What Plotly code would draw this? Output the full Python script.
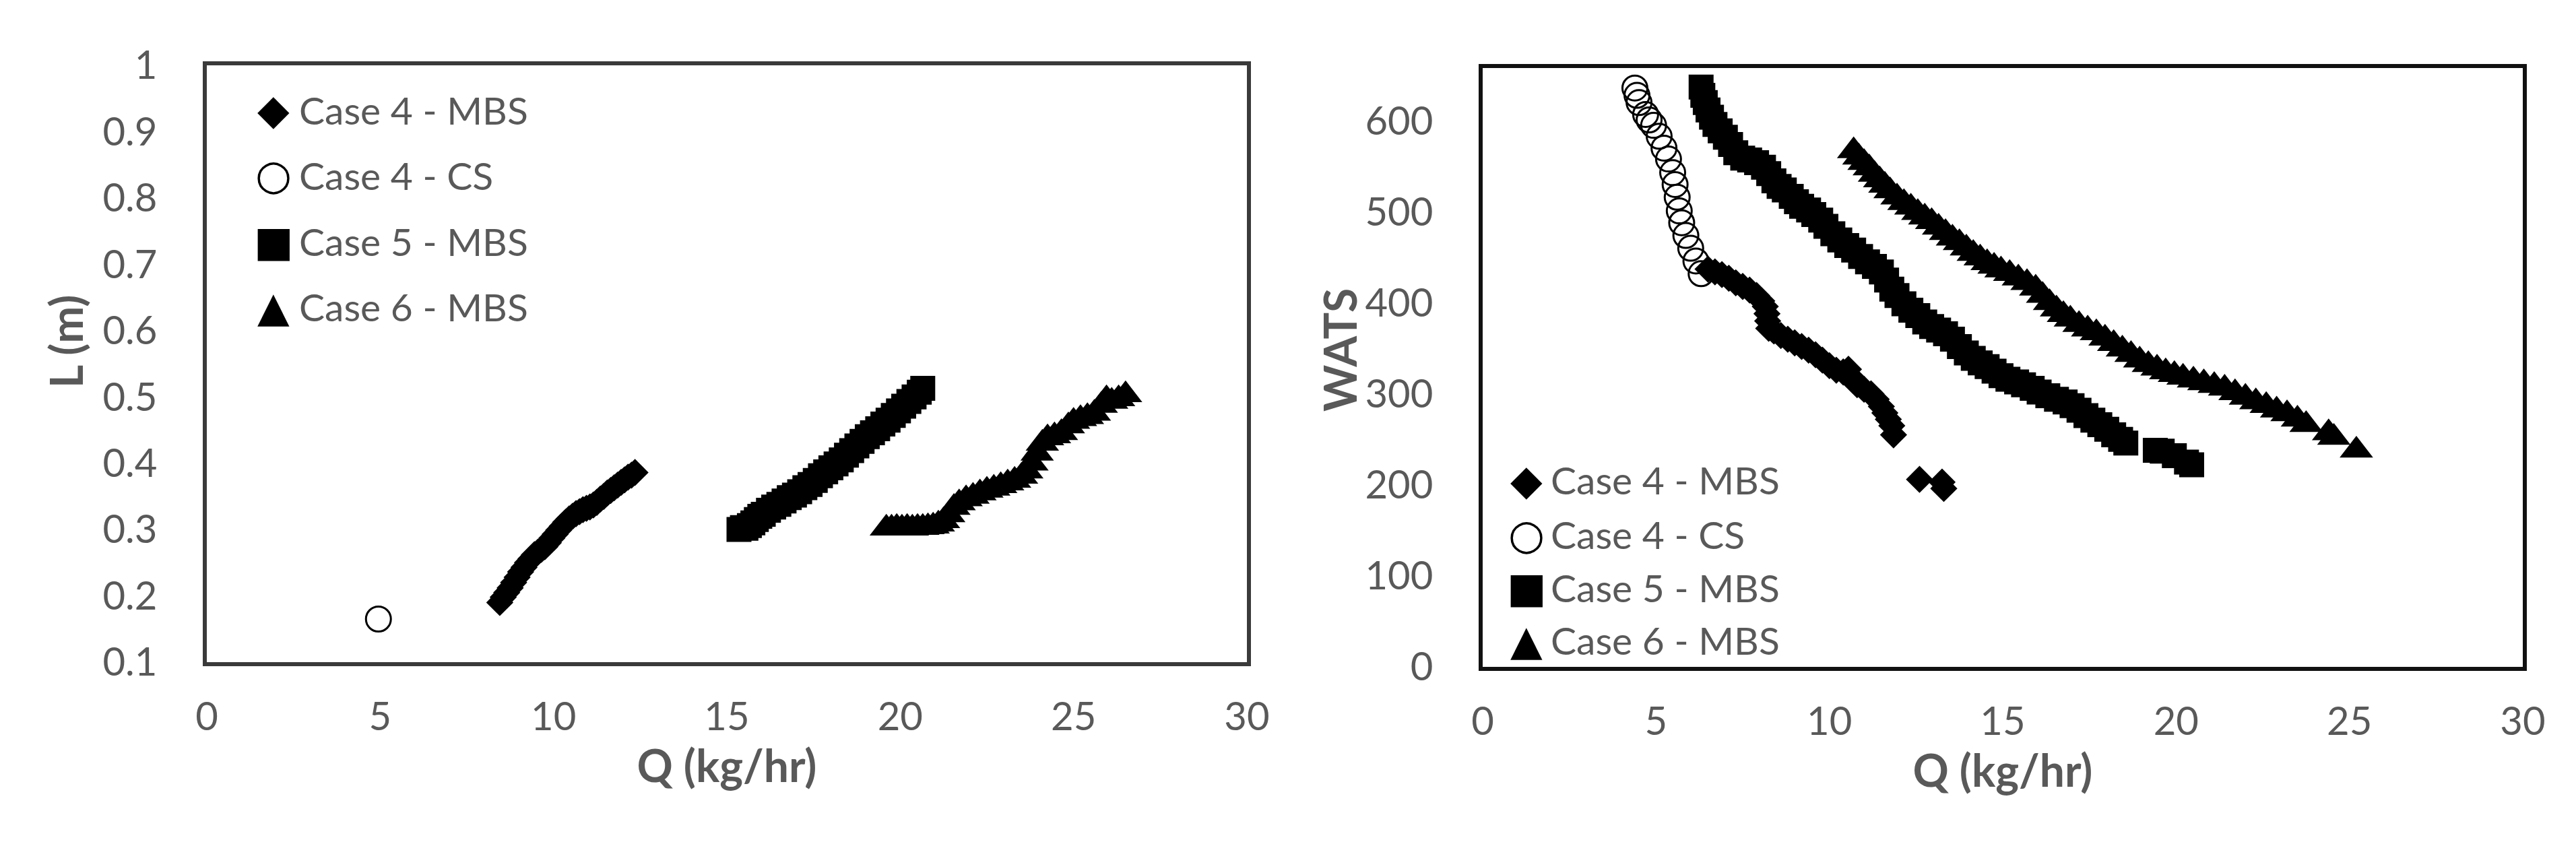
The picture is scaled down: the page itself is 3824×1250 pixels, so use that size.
import plotly.graph_objects as go

W, H = 3824, 1250

# ---- Left panel: L (m) vs Q (kg/hr) ----
case4_mbs_q_l = [8.45, 8.55, 8.65, 8.75, 8.85, 8.95, 9.05, 9.15, 9.25, 9.35, 9.45, 9.55, 9.65, 9.75,
                 9.85, 9.95, 10.05, 10.15, 10.25, 10.35, 10.45, 10.55, 10.65, 10.75, 10.85, 10.95,
                 11.05, 11.15, 11.25, 11.35, 11.45, 11.55, 11.65, 11.75, 11.85, 11.95, 12.05, 12.15,
                 12.25, 12.35]
case4_mbs_l = [0.190, 0.198, 0.205, 0.212, 0.220, 0.228, 0.236, 0.243, 0.250, 0.256, 0.262, 0.266,
               0.270, 0.274, 0.280, 0.287, 0.293, 0.299, 0.305, 0.311, 0.316, 0.320, 0.324, 0.327,
               0.330, 0.332, 0.334, 0.337, 0.341, 0.346, 0.350, 0.355, 0.359, 0.363, 0.367, 0.371,
               0.375, 0.379, 0.382, 0.386]

case4_cs_q_l = [4.95]
case4_cs_l = [0.165]

case5_mbs_q_l = [15.35, 15.45, 15.55, 15.65, 15.75, 15.85, 15.95, 16.05, 16.2, 16.35, 16.5, 16.65,
                 16.8, 16.95, 17.1, 17.25, 17.4, 17.55, 17.7, 17.85, 18.0, 18.15, 18.3, 18.45, 18.6,
                 18.75, 18.9, 19.05, 19.2, 19.35, 19.5, 19.65, 19.8, 19.95, 20.1, 20.25, 20.4, 20.55,
                 20.65]
case5_mbs_l = [0.300, 0.303, 0.302, 0.306, 0.310, 0.315, 0.320, 0.323, 0.329, 0.334, 0.338, 0.343,
               0.348, 0.352, 0.357, 0.363, 0.368, 0.374, 0.381, 0.387, 0.393, 0.399, 0.405, 0.412,
               0.419, 0.426, 0.433, 0.440, 0.446, 0.452, 0.459, 0.465, 0.472, 0.479, 0.486, 0.493,
               0.500, 0.507, 0.513]

case6_mbs_q_l = [19.6, 19.75, 19.9, 20.05, 20.2, 20.35, 20.5, 20.65, 20.8, 20.95, 21.1, 21.25, 21.4,
                 21.55, 21.7, 21.9, 22.1, 22.3, 22.5, 22.7, 22.9, 23.1, 23.3, 23.5, 23.65, 23.8,
                 23.95, 24.1, 24.25, 24.45, 24.65, 24.85, 25.0, 25.2, 25.4, 25.6, 25.8, 25.95, 26.1,
                 26.3, 26.5]
case6_mbs_l = [0.302, 0.302, 0.303, 0.302, 0.303, 0.302, 0.303, 0.303, 0.304, 0.305, 0.308, 0.313,
               0.322, 0.333, 0.340, 0.346, 0.350, 0.355, 0.359, 0.362, 0.366, 0.370, 0.374, 0.380,
               0.388, 0.400, 0.415, 0.430, 0.438, 0.441, 0.446, 0.456, 0.463, 0.467, 0.470, 0.475,
               0.487, 0.497, 0.493, 0.497, 0.503]

# ---- Right panel: WATS vs Q (kg/hr) ----
case4_mbs_q_w = [6.5, 6.7, 6.9, 7.1, 7.3, 7.5, 7.7, 7.9, 8.05, 8.15, 8.2, 8.22, 8.25, 8.4, 8.6, 8.8,
                 9.0, 9.2, 9.4, 9.6, 9.8, 10.0, 10.2, 10.4, 10.55, 10.65, 10.8, 11.0, 11.2, 11.35,
                 11.5, 11.6, 11.7, 11.8, 11.85, 12.6, 13.25, 13.3]
case4_mbs_w = [437, 434, 431, 427, 422, 418, 414, 408, 402, 396, 388, 380, 372, 369, 364, 360, 356,
               352, 348, 343, 337, 331, 326, 324, 327, 318, 310, 305, 300, 294, 286, 279, 272, 265,
               255, 206, 203, 196]

case4_cs_q_w = [4.39, 4.45, 4.51, 4.7, 4.8, 4.93, 5.09, 5.23, 5.36, 5.48, 5.55, 5.61, 5.67, 5.74,
                5.86, 6.0, 6.15, 6.3]
case4_cs_w = [636, 628, 620, 607, 601, 595, 583, 570, 558, 543, 530, 516, 501, 488, 474, 460, 446,
              432]

case5_mbs_q_w = [6.3, 6.35, 6.42, 6.5, 6.6, 6.7, 6.85, 7.0, 7.15, 7.3, 7.5, 7.7, 7.9, 8.1, 8.25, 8.4,
                 8.55, 8.7, 8.9, 9.05, 9.2, 9.4, 9.55, 9.75, 9.9, 10.1, 10.3, 10.5, 10.7, 10.9, 11.1,
                 11.3, 11.5, 11.65, 11.8, 11.95, 12.15, 12.35, 12.55, 12.75, 12.95, 13.15, 13.35,
                 13.55, 13.75, 13.95, 14.15, 14.35, 14.55, 14.75, 14.95, 15.15, 15.4, 15.6, 15.85,
                 16.05, 16.3, 16.55, 16.8, 17.0, 17.2, 17.4, 17.6, 17.8, 18.0, 18.2, 18.4, 18.55,
                 19.4, 19.6, 19.95, 20.3, 20.45]
case5_mbs_w = [637, 628, 620, 612, 604, 596, 589, 582, 574, 565, 559, 557, 554, 549, 542, 534, 528,
               524, 517, 511, 506, 502, 497, 491, 484, 476, 469, 463, 458, 451, 445, 440, 434, 425,
               415, 408, 399, 392, 386, 379, 374, 370, 366, 360, 352, 345, 339, 334, 330, 325, 320,
               316, 313, 310, 306, 302, 298, 294, 291, 287, 282, 276, 271, 266, 261, 255, 250, 246,
               238, 237, 232, 225, 222]

case6_mbs_q_w = [10.7, 10.85, 11.0, 11.15, 11.3, 11.45, 11.6, 11.75, 11.95, 12.15, 12.35, 12.55,
                 12.75, 12.95, 13.15, 13.35, 13.55, 13.75, 13.95, 14.15, 14.35, 14.55, 14.75, 14.95,
                 15.2, 15.45, 15.7, 15.95, 16.15, 16.35, 16.55, 16.75, 16.95, 17.2, 17.45, 17.7,
                 17.95, 18.2, 18.45, 18.7, 18.95, 19.2, 19.45, 19.7, 19.95, 20.2, 20.5, 20.8, 21.1,
                 21.4, 21.7, 22.0, 22.3, 22.6, 22.9, 23.2, 23.5, 23.75, 24.4, 24.55, 25.2]
case6_mbs_w = [567, 560, 554, 548, 541, 535, 529, 523, 516, 510, 505, 499, 494, 489, 483, 477, 471,
               466, 460, 454, 449, 444, 440, 436, 432, 427, 422, 416, 408, 400, 393, 387, 382, 376,
               371, 367, 361, 355, 349, 343, 337, 332, 328, 324, 321, 318, 315, 312, 309, 306, 301,
               296, 291, 287, 282, 278, 272, 266, 257, 252, 238]

series_names = ['Case 4 - MBS', 'Case 4 - CS', 'Case 5 - MBS', 'Case 6 - MBS']
legend_glyphs = ['\u25C6', '\u25CB', '\u25A0', '\u25B2']

q_ticks = [0, 5, 10, 15, 20, 25, 30]
l_ticks = [0.1, 0.2, 0.3, 0.4, 0.5, 0.6, 0.7, 0.8, 0.9, 1]
l_tick_text = ['0.1', '0.2', '0.3', '0.4', '0.5', '0.6', '0.7', '0.8', '0.9', '1']
wats_ticks = [0, 100, 200, 300, 400, 500, 600]

TEXT = '#595959'
FONT = 'Lato'

# marker look per series (Excel-like black markers)
MARKERS = {
    'Case 4 - MBS': dict(symbol='diamond', size=31, color='black'),
    'Case 4 - CS': dict(symbol='circle-open', size=37, color='black', line=dict(width=3, color='black')),
    'Case 5 - MBS': dict(symbol='square', size=37, color='black'),
    'Case 6 - MBS': dict(symbol='triangle-up', size=43, color='black'),
}

left_data = [
    (case4_mbs_q_l, case4_mbs_l),
    (case4_cs_q_l, case4_cs_l),
    (case5_mbs_q_l, case5_mbs_l),
    (case6_mbs_q_l, case6_mbs_l),
]
right_data = [
    (case4_mbs_q_w, case4_mbs_w),
    (case4_cs_q_w, case4_cs_w),
    (case5_mbs_q_w, case5_mbs_w),
    (case6_mbs_q_w, case6_mbs_w),
]

fig = go.Figure()
for name, (q, v) in zip(series_names, left_data):
    fig.add_trace(go.Scatter(x=q, y=v, mode='markers', name=name, marker=MARKERS[name],
                             xaxis='x', yaxis='y', showlegend=False))
for name, (q, v) in zip(series_names, right_data):
    fig.add_trace(go.Scatter(x=q, y=v, mode='markers', name=name, marker=MARKERS[name],
                             xaxis='x2', yaxis='y2', showlegend=False))


def px_x(px):
    return px / W


def px_y(py):
    return 1 - py / H


axis_common = dict(
    showline=True, linewidth=6, mirror=True, showgrid=False, zeroline=False,
    ticks='', automargin=False, tickfont=dict(family=FONT, size=58, color=TEXT),
)
title_font = dict(family=FONT, size=66, color=TEXT, weight='bold')

fig.update_layout(
    width=W, height=H,
    margin=dict(l=0, r=0, t=0, b=0, autoexpand=False),
    paper_bgcolor='white', plot_bgcolor='white',
    showlegend=False,
    xaxis=dict(axis_common, domain=[px_x(307), px_x(1851)], range=[0, 30], tickmode='array',
               tickvals=q_ticks, linecolor='#3a3a3a', anchor='y', ticklabelstandoff=25,
               title=dict(text='Q (kg/hr)', font=title_font, standoff=14)),
    yaxis=dict(axis_common, domain=[px_y(983), px_y(97)], range=[0.1, 1], tickmode='array',
               tickvals=l_ticks, ticktext=l_tick_text, linecolor='#3a3a3a', anchor='x',
               ticklabelstandoff=56),
    xaxis2=dict(axis_common, domain=[px_x(2201), px_x(3745)], range=[0, 30], tickmode='array',
                tickvals=q_ticks, linecolor='#111111', anchor='y2', ticklabelstandoff=25,
                title=dict(text='Q (kg/hr)', font=title_font, standoff=14)),
    yaxis2=dict(axis_common, domain=[px_y(990), px_y(101)], range=[0, 658], tickmode='array',
                tickvals=wats_ticks, linecolor='#111111', anchor='x2', ticklabelstandoff=56),
)

# y-axis titles sit off-centre in the original, so place them directly
for text, cx, cy in [('L (m)', 98, 507), ('WATS', 1989, 520)]:
    fig.add_annotation(x=px_x(cx), y=px_y(cy), xref='paper', yref='paper', text=text,
                       textangle=-90, showarrow=False, xanchor='center', yanchor='middle',
                       font=title_font)

# Excel-style legends with full-size symbols, drawn as text
legend_layouts = [
    dict(sym_x=406, text_x=442, rows=[163, 260, 358, 455]),
    dict(sym_x=2266, text_x=2300, rows=[712, 793, 872, 950]),
]
for lg in legend_layouts:
    for name, glyph, row in zip(series_names, legend_glyphs, lg['rows']):
        fig.add_annotation(x=px_x(lg['sym_x']), y=px_y(row), xref='paper', yref='paper',
                           text=glyph, showarrow=False, xanchor='center', yanchor='middle',
                           font=dict(family='DejaVu Sans', size=62, color='black'))
        fig.add_annotation(x=px_x(lg['text_x']), y=px_y(row), xref='paper', yref='paper',
                           text=name, showarrow=False, xanchor='left', yanchor='middle',
                           font=dict(family=FONT, size=57, color=TEXT))

fig.write_html('out.html', config={'displayModeBar': False},
               post_script="document.body.style.margin='0';")
